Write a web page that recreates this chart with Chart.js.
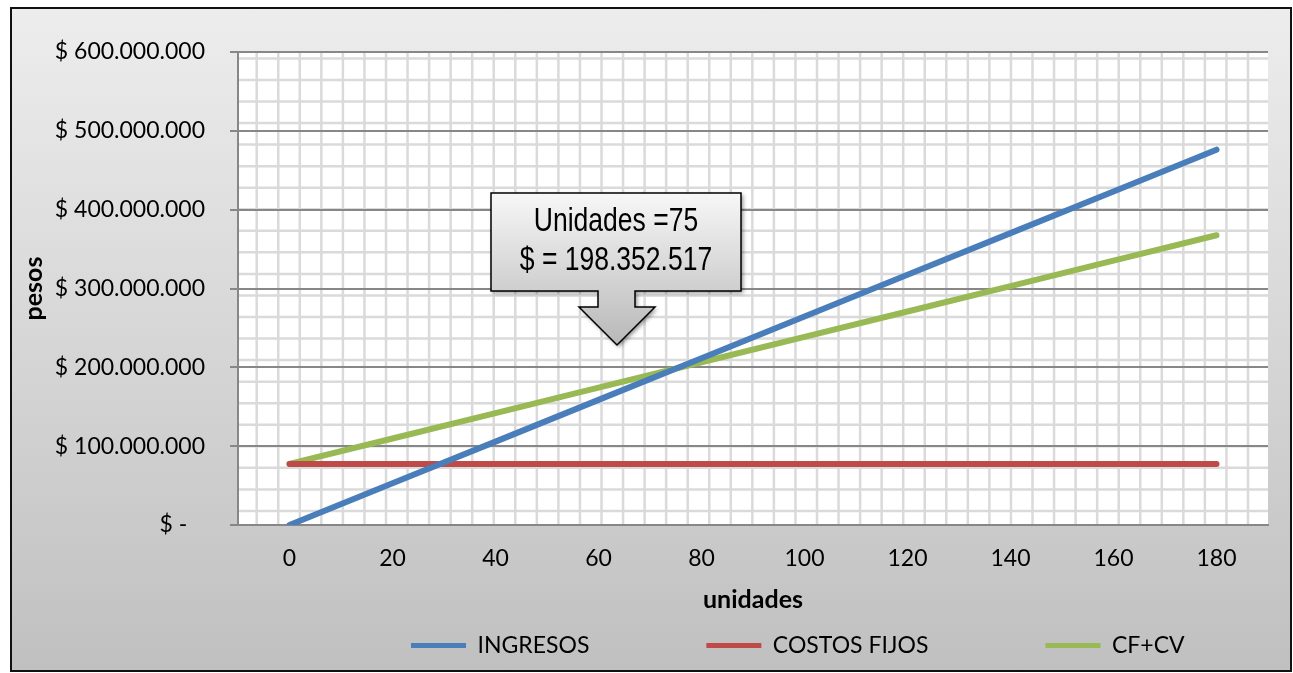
<!DOCTYPE html>
<html>
<head>
<meta charset="utf-8">
<script src="https://cdn.jsdelivr.net/npm/chart.js@4/dist/chart.umd.min.js"></script>
<style>
  html, body { margin: 0; padding: 0; background: #fff; }
  #frame {
    position: absolute; left: 10px; top: 7px; width: 1282px; height: 665px;
    box-sizing: border-box; border: 2px solid #111;
    background: linear-gradient(#ededed, #c0c0c0);
  }
  #wrap { position: absolute; left: 0; top: 0; width: 1293px; height: 673px; }
</style>
</head>
<body>
<div id="frame"></div>
<div id="wrap"><canvas id="chart"></canvas></div>
<script>
// units sold (x) and the three series, in pesos
const unidades = [0, 20, 40, 60, 80, 100, 120, 140, 160, 180];
const ingresos = [0, 52894005, 105788009, 158682014, 211576018, 264470023, 317364027, 370258032, 423152036, 476046041];
const costosFijos = [77500000, 77500000, 77500000, 77500000, 77500000, 77500000, 77500000, 77500000, 77500000, 77500000];
const cfCv = [77500000, 109727338, 141954676, 174182014, 206409352, 238636690, 270864028, 303091366, 335318704, 367546042];

const xTicks = [0, 20, 40, 60, 80, 100, 120, 140, 160, 180];
const yTicks = [0, 100000000, 200000000, 300000000, 400000000, 500000000, 600000000];
const callout = ["Unidades =75", "$ = 198.352.517"];

const FONT = "Lato, 'Open Sans', sans-serif";

function pesos(v) {
  if (v === 0) return "$ -   ";
  return "$ " + String(v).replace(/\B(?=(\d{3})+(?!\d))/g, ".");
}
const pts = arr => unidades.map((u, i) => ({ x: u, y: arr[i] }));

// plot area: white with the light square pattern
const plotPattern = {
  id: "plotPattern",
  beforeDraw(chart) {
    const { ctx, chartArea: a } = chart;
    ctx.save();
    ctx.fillStyle = "#ffffff";
    ctx.fillRect(a.left, a.top, a.right - a.left, a.bottom - a.top);
    ctx.strokeStyle = "#dadada";
    ctx.lineWidth = 2.5;
    ctx.beginPath();
    const step = 21.55;
    for (let x = a.left + 18.7; x < a.right; x += step) {
      ctx.moveTo(x, a.top); ctx.lineTo(x, a.bottom);
    }
    for (let y = a.top + 6.4; y < a.bottom; y += step) {
      ctx.moveTo(a.left, y); ctx.lineTo(a.right, y);
    }
    ctx.stroke();
    ctx.restore();
  }
};

// callout box with down arrow
const calloutBox = {
  id: "calloutBox",
  afterDatasetsDraw(chart) {
    const ctx = chart.ctx;
    const L = 491, R = 741, T = 193, B = 291;
    const sL = 598, sR = 635, hY = 307, hL = 579, hR = 655, tipX = 617, tipY = 345;
    ctx.save();
    ctx.beginPath();
    ctx.moveTo(L, T); ctx.lineTo(R, T); ctx.lineTo(R, B);
    ctx.lineTo(sR, B); ctx.lineTo(sR, hY); ctx.lineTo(hR, hY);
    ctx.lineTo(tipX, tipY); ctx.lineTo(hL, hY); ctx.lineTo(sL, hY);
    ctx.lineTo(sL, B); ctx.lineTo(L, B); ctx.closePath();
    const g = ctx.createLinearGradient(0, T, 0, tipY);
    g.addColorStop(0, "#f7f7f7");
    g.addColorStop(1, "#b8b8b8");
    ctx.fillStyle = g;
    ctx.shadowColor = "rgba(0,0,0,0.45)";
    ctx.shadowBlur = 4;
    ctx.shadowOffsetX = 2;
    ctx.shadowOffsetY = 2;
    ctx.fill();
    ctx.shadowColor = "transparent";
    ctx.strokeStyle = "#000";
    ctx.lineWidth = 1.5;
    ctx.stroke();
    ctx.fillStyle = "#000";
    ctx.font = "34px 'Liberation Sans', Arial, sans-serif";
    ctx.textAlign = "center";
    ctx.textBaseline = "middle";
    // narrow face look: squeeze horizontally
    [[callout[0], 222], [callout[1], 261]].forEach(([t, y]) => {
      ctx.save();
      ctx.translate((L + R) / 2, y);
      ctx.scale(0.78, 1);
      ctx.fillText(t, 0, 0);
      ctx.restore();
    });
    ctx.restore();
  }
};

// move the legend row to where the original sits
const legendPlace = {
  id: "legendPlace",
  afterLayout(chart) {
    const lg = chart.legend;
    if (!lg) return;
    const pad = lg.options.labels.padding;
    lg.left = 411 - pad;
    lg.right = chart.width + 500;
    lg.top = 634 - pad;
    lg.bottom = chart.height;
  }
};

new Chart(document.getElementById("chart"), {
  type: "line",
  data: {
    datasets: [
      { label: "INGRESOS", data: pts(ingresos), borderColor: "#4a7ebb", backgroundColor: "#4a7ebb" },
      { label: "COSTOS FIJOS", data: pts(costosFijos), borderColor: "#be4b48", backgroundColor: "#be4b48" },
      { label: "CF+CV", data: pts(cfCv), borderColor: "#98b954", backgroundColor: "#98b954" }
    ]
  },
  options: {
    responsive: true,
    maintainAspectRatio: false,
    animation: false,
    layout: { padding: { left: 12, top: 52, right: 25, bottom: 15 } },
    elements: {
      point: { radius: 0 },
      line: { borderWidth: 6, tension: 0, borderCapStyle: "round", borderJoinStyle: "round" }
    },
    plugins: {
      tooltip: { enabled: false },
      legend: {
        position: "bottom",
        align: "start",
        maxHeight: 40,
        labels: {
          color: "#000",
          font: { family: FONT, size: 23 },
          boxWidth: 55,
          boxHeight: 5,
          padding: 117,
          generateLabels(chart) {
            return Chart.defaults.plugins.legend.labels.generateLabels(chart)
              .map(l => Object.assign(l, { lineWidth: 0 }));
          }
        }
      }
    },
    scales: {
      x: {
        type: "linear",
        min: -10,
        max: 190,
        afterBuildTicks: axis => { axis.ticks = xTicks.map(v => ({ value: v })); },
        afterFit: axis => { axis.height = 93; },
        grid: { display: false, drawTicks: false },
        border: { display: true, color: "#878787", width: 2 },
        ticks: { color: "#000", font: { family: FONT, size: 23 }, padding: 20, maxRotation: 0 },
        title: {
          display: true, text: "unidades", color: "#000",
          font: { family: FONT, size: 25, weight: "bold" },
          padding: { top: 0, bottom: 3 }
        }
      },
      y: {
        min: 0,
        max: 600000000,
        afterBuildTicks: axis => { axis.ticks = yTicks.map(v => ({ value: v })); },
        afterFit: axis => { axis.width = 226; },
        grid: { color: "#878787", lineWidth: 2, drawTicks: true, tickLength: 8 },
        border: { display: true, color: "#878787", width: 2 },
        ticks: { color: "#000", font: { family: FONT, size: 23 }, padding: 25, callback: v => pesos(v) },
        title: {
          display: true, text: "pesos", color: "#000",
          font: { family: FONT, size: 25, weight: "bold" },
          padding: { top: 7, bottom: 0 }
        }
      }
    }
  },
  plugins: [plotPattern, calloutBox, legendPlace]
});
</script>
</body>
</html>
